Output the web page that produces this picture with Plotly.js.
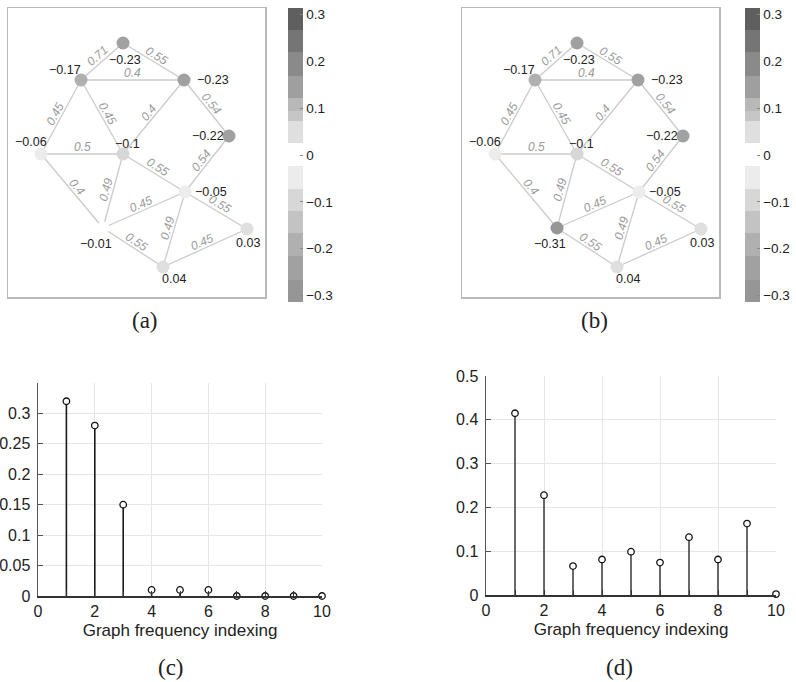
<!DOCTYPE html>
<html>
<head>
<meta charset="utf-8">
<script src="https://cdn.plot.ly/plotly-3.0.1.min.js"></script>
<style>html,body{margin:0;padding:0;background:#fff;}#chart{width:796px;height:682px;}</style>
</head>
<body>
<div id="chart"></div>
<script>
// ---------------- data ----------------
// graph layout (node coordinates, abstract units)
const nodeX = [115, 73, 176, 221, 33, 115, 177, 95, 239, 155];
const nodeY = [254, 217, 217, 161, 143, 143, 105, 69, 68, 30];
// graph signal values for panel (a) and (b)
const signalA = [-0.23, -0.17, -0.23, -0.22, -0.06, -0.1, -0.05, -0.01, 0.03, 0.04];
const signalB = [-0.23, -0.17, -0.23, -0.22, -0.06, -0.1, -0.05, -0.31, 0.03, 0.04];
// edges: source, target, weight
const edgeFrom = [0, 0, 1, 1, 1, 2, 2, 3, 4, 4, 5, 5, 6, 6, 6, 7, 8];
const edgeTo   = [1, 2, 2, 4, 5, 5, 3, 6, 5, 7, 7, 6, 7, 8, 9, 9, 9];
const edgeW    = [0.71, 0.55, 0.4, 0.45, 0.45, 0.4, 0.54, 0.54, 0.5, 0.4, 0.49, 0.55, 0.45, 0.55, 0.49, 0.55, 0.45];
// colorbar ticks
const cbTicks = [-0.3, -0.2, -0.1, 0, 0.1, 0.2, 0.3];
// spectra
const freqIdx = [1, 2, 3, 4, 5, 6, 7, 8, 9, 10];
const spectrumC = [0.32, 0.28, 0.15, 0.01, 0.01, 0.01, 0, 0, 0, 0];
const spectrumD = [0.415, 0.228, 0.066, 0.081, 0.099, 0.074, 0.132, 0.081, 0.163, 0.002];
const yTicksC = [0, 0.05, 0.1, 0.15, 0.2, 0.25, 0.3];
const yTicksD = [0, 0.1, 0.2, 0.3, 0.4, 0.5];
const xTicks = [0, 2, 4, 6, 8, 10];
const xLabel = 'Graph frequency indexing';
const captions = ['(a)', '(b)', '(c)', '(d)'];

// ---------------- styles ----------------
const W = 796, H = 682;
const SANS = 'Liberation Sans, Arial, Helvetica, sans-serif';
const SERIF = 'Liberation Serif, DejaVu Serif, serif';
// node label offsets in px (dx right, dy down)
const labelShift = [[2, 17], [-16, -10], [29, 0], [-21, 0], [-10, -12], [4, -10], [26, 0], [-7, 16], [1, 14], [11, 12]];
// discrete gray colormap (bottom -> top)
const bands = [
  [0.000, 0.076, '#969696'], [0.076, 0.156, '#a1a1a1'], [0.156, 0.233, '#b0b0b0'],
  [0.233, 0.310, '#c3c3c3'], [0.310, 0.386, '#d7d7d7'], [0.386, 0.4625, '#ececec'],
  [0.4625, 0.540, '#ffffff'], [0.540, 0.617, '#dfdfdf'], [0.617, 0.648, '#c6c6c6'],
  [0.648, 0.693, '#b8b8b8'], [0.693, 0.769, '#9f9f9f'], [0.769, 0.849, '#8a8a8a'],
  [0.849, 0.924, '#757575'], [0.924, 1.000, '#5f5f5f']
];
const colorscale = [];
bands.forEach(b => { colorscale.push([b[0], b[2]]); colorscale.push([b[1], b[2]]); });
const CMAX = 0.314;

function px2x(p) { return p / W; }
function py2y(p) { return 1 - p / H; }

const fmt = v => (v < 0 ? '\u2212' : '') + String(Math.abs(v));

const traces = [];
const annotations = [];

function graphPanel(xa, ya, values, cbX) {
  const ex = [], ey = [];
  edgeFrom.forEach((a, i) => {
    const b = edgeTo[i];
    ex.push(nodeX[a], nodeX[b], null);
    ey.push(nodeY[a], nodeY[b], null);
  });
  traces.push({
    type: 'scatter', mode: 'lines', x: ex, y: ey, xaxis: xa, yaxis: ya,
    line: {color: '#cbcbcb', width: 1.3}, hoverinfo: 'skip', showlegend: false
  });
  traces.push({
    type: 'scatter', mode: 'markers', x: nodeX, y: nodeY, xaxis: xa, yaxis: ya,
    showlegend: false, cliponaxis: false,
    marker: {
      size: 13, color: values, colorscale: colorscale, cmin: -CMAX, cmax: CMAX,
      line: {width: 0},
      showscale: true,
      colorbar: {
        x: px2x(cbX), xanchor: 'left', xpad: 0, ypad: 0,
        y: py2y(155), yanchor: 'middle', len: 294 / H, lenmode: 'fraction',
        thickness: 15, outlinewidth: 0,
        tickvals: cbTicks, ticktext: cbTicks.map(fmt),
        ticks: 'inside', ticklen: 3, tickcolor: '#888',
        tickfont: {family: SANS, size: 13.5, color: '#222'}
      }
    }
  });
  const xr = xa === 'x' ? 'x' : 'x2';
  const yr = ya === 'y' ? 'y' : 'y2';
  // edge weights
  edgeFrom.forEach((a, i) => {
    const b = edgeTo[i];
    const dx = nodeX[b] - nodeX[a];
    const dy = -(nodeY[b] - nodeY[a]); // screen y down
    const L = Math.hypot(dx, dy);
    let ang = Math.atan2(dy, dx) * 180 / Math.PI;
    if (ang > 90) ang -= 180;
    if (ang < -90) ang += 180;
    let nx = dy / L, ny = -dx / L;
    if (ny > 0 || (ny === 0 && nx > 0)) { nx = -nx; ny = -ny; }
    const off = 7;
    annotations.push({
      xref: xr, yref: yr, x: (nodeX[a] + nodeX[b]) / 2, y: (nodeY[a] + nodeY[b]) / 2,
      text: String(edgeW[i]), showarrow: false, textangle: ang,
      xshift: nx * off, yshift: -ny * off,
      font: {family: SANS, size: 12, color: '#9a9a9a', style: 'italic'}
    });
  });
  // node values
  values.forEach((v, i) => {
    annotations.push({
      xref: xr, yref: yr, x: nodeX[i], y: nodeY[i], text: fmt(v), showarrow: false,
      xshift: labelShift[i][0], yshift: -labelShift[i][1],
      font: {family: SANS, size: 12.5, color: '#222'}
    });
  });
}

graphPanel('x', 'y', signalA, 288);
graphPanel('x2', 'y2', signalB, 745);

function stemPanel(xa, ya, vals, lineColor) {
  const sx = [], sy = [];
  vals.forEach((v, i) => { sx.push(freqIdx[i], freqIdx[i], null); sy.push(0, v, null); });
  traces.push({
    type: 'scatter', mode: 'lines', x: sx, y: sy, xaxis: xa, yaxis: ya,
    line: {color: lineColor, width: 1.6}, showlegend: false, hoverinfo: 'skip', cliponaxis: false
  });
  traces.push({
    type: 'scatter', mode: 'markers', x: freqIdx, y: vals, xaxis: xa, yaxis: ya,
    showlegend: false, cliponaxis: false,
    marker: {symbol: 'circle', size: 6.5, color: '#ffffff', line: {color: '#111', width: 1.3}}
  });
}
stemPanel('x3', 'y3', spectrumC, '#1a1a1a');
stemPanel('x4', 'y4', spectrumD, '#444');

const frameAxis = (domain, range, anchor) => ({
  domain: domain, range: range, anchor: anchor, showgrid: false, zeroline: false,
  showticklabels: false, ticks: '', showline: true, mirror: true,
  linecolor: '#b9b9b9', linewidth: 1.5, fixedrange: true
});

const stemX = (domain, anchor) => ({
  domain: domain, anchor: anchor, range: [0, 10],
  tickvals: xTicks, ticktext: xTicks.map(String),
  ticks: 'inside', ticklen: 5, tickcolor: '#333', tickwidth: 1,
  minor: {dtick: 1, tick0: 0, ticks: 'inside', ticklen: 5, tickcolor: '#333', showgrid: false},
  showgrid: true, gridcolor: '#e6e6e6', gridwidth: 1, zeroline: false,
  showline: true, linecolor: '#333', linewidth: 1.5,
  tickfont: {family: SANS, size: 16, color: '#222'},
  title: {text: xLabel, font: {family: SANS, size: 17, color: '#222'}, standoff: 5}
});
const stemY = (domain, anchor, range, ticks) => ({
  domain: domain, anchor: anchor, range: range,
  tickvals: ticks, ticktext: ticks.map(String),
  ticks: 'inside', ticklen: 5, tickcolor: '#555',
  showgrid: true, gridcolor: '#e6e6e6', gridwidth: 1, zeroline: false,
  showline: true, linecolor: '#555', linewidth: 1.5,
  tickfont: {family: SANS, size: 16, color: '#222'}, ticklabelstandoff: 3
});

const graphYDomain = [py2y(297), py2y(8)];
const layout = {
  width: W, height: H, margin: {l: 0, r: 0, t: 0, b: 0},
  paper_bgcolor: '#ffffff', plot_bgcolor: '#ffffff', showlegend: false,
  xaxis: frameAxis([px2x(8), px2x(265)], [0, 257], 'y'),
  yaxis: frameAxis(graphYDomain, [0, 289], 'x'),
  xaxis2: frameAxis([px2x(462), px2x(719)], [0, 257], 'y2'),
  yaxis2: frameAxis(graphYDomain, [0, 289], 'x2'),
  xaxis3: stemX([px2x(38), px2x(322)], 'y3'),
  yaxis3: stemY([py2y(596), py2y(383)], 'x3', [0, 0.35], yTicksC),
  xaxis4: stemX([px2x(486), px2x(776)], 'y4'),
  yaxis4: stemY([py2y(595), py2y(376)], 'x4', [0, 0.5], yTicksD),
  annotations: annotations.concat([
    [145, 320], [594, 320], [171, 667], [619, 667]
  ].map((p, i) => ({
    xref: 'paper', yref: 'paper', x: px2x(p[0]), y: py2y(p[1]), text: captions[i],
    showarrow: false, xanchor: 'center', yanchor: 'middle',
    font: {family: SERIF, size: 23, color: '#222'}
  })))
};

Plotly.newPlot('chart', traces, layout, {displayModeBar: false, staticPlot: true});
</script>
</body>
</html>
